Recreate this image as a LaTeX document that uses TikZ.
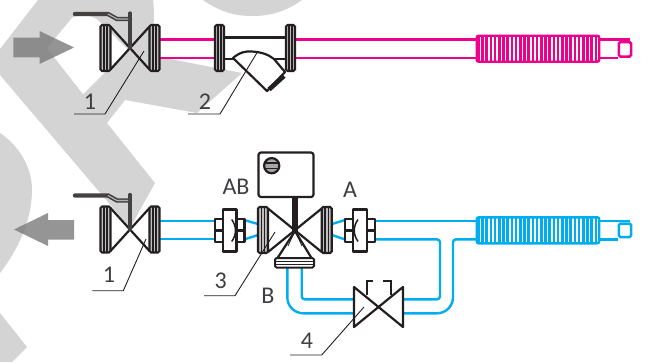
\documentclass[tikz,border=0pt]{standalone}
\usepackage{fontspec}
\setmainfont{Carlito}
\definecolor{wm}{RGB}{212,212,212}
\definecolor{ink}{RGB}{35,31,32}
\definecolor{lab}{RGB}{62,62,66}
\definecolor{pinkp}{RGB}{236,0,140}
\definecolor{bluep}{RGB}{0,174,239}
\tikzset{
  wmark/.style={fill=wm,draw=none},
  bigarrow/.style={fill=black!52,draw=none,opacity=.8},
  ln/.style={draw=ink,line width=2.2pt,line join=round},
  thinlead/.style={draw=ink,line width=.9pt},
  lbl/.style={text=lab,font=\fontsize{24}{24}\selectfont,inner sep=0pt},
  pipe/.style={line width=2.4pt,line join=round},
  flangebox/.style={draw=ink,line width=2.1pt,fill=black!25,rounded corners=1.5pt},
  stripe/.style={draw=ink,line width=1.4pt},
  pics/flangev/.style n args={2}{code={
    \draw[flangebox] (-#1,-#2) rectangle (#1,#2);
    \draw[stripe] (-#1/3,-#2) -- (-#1/3,#2) (#1/3,-#2) -- (#1/3,#2);
  }},
  pics/ballvalve/.style={code={
    \pic at (-24.5,0) {flangev={5}{23}};
    \pic at (24.5,0) {flangev={5}{23}};
    \draw[ln] (-19.5,-21.5) -- (19.5,21.5) (-19.5,21.5) -- (19.5,-21.5);
    \draw[draw=ink!85,line width=3.2pt,line cap=round] (0,0) -- (0,-35);
    \draw[draw=ink!85,line width=4.4pt,line cap=round,line join=round] (-55,-34) -- (-22,-34) -- (-13,-29) -- (0,-29);
    \draw[draw=black!30,line width=1.2pt] (-22,-34) -- (-13,-29) -- (-2,-29);
  }},
  pics/union/.style={code={
    \draw[ln,fill=white] (-14.7,-11.3) rectangle (14.7,11.3);
    \draw[ln,fill=white] (-6.8,-21) rectangle (6.8,21);
    \draw[ln] (-14.7,0) -- (-6.8,0) (6.8,0) -- (14.7,0);
    \draw[draw=ink,line width=1.5pt] (#1*2,-11) .. controls (#1*7,-4) and (#1*7,4) .. (#1*2,11);
  }},
  pics/union/.default=1,
  pics/bellows/.style={code={
    \draw[line width=2.4pt,rounded corners=2pt,fill=white] (0,0) rectangle (122.5,26);
    \foreach \i in {0,...,28} \draw[line width=2.6pt] ({1.5+\i*4.2},0) -- ({1.5+\i*4.2},26);
  }}
}
\begin{document}
\begin{tikzpicture}[x=1pt,y=-1pt]
\useasboundingbox (0,0) rectangle (652,362);
% watermark
\fill[wmark] (38,0) -- (0,49) -- (0,75) -- (130,228) -- (155,183) -- (107,123) -- (125,100) -- (197,113) -- (242,73) -- (160,57) -- (148,54) .. controls (154,35) and (155,15) .. (153,0) -- cycle;
\fill[white] (47,48) -- (72,18) .. controls (80,14) and (92,14) .. (100,22) -- (128,50) -- (83,94) -- cycle;
\fill[wmark] (203,0) .. controls (220,12) and (235,16) .. (252,16) .. controls (270,16) and (285,12) .. (302,0) -- cycle;
\fill[wmark] (0,133) .. controls (22,148) and (32,170) .. (32,190) .. controls (32,220) and (18,250) .. (0,273) -- cycle;
\fill[wmark] (0,313) -- (27,347) -- (12,362) -- (0,362) -- cycle;
% big arrows
\fill[bigarrow] (13.3,37.5) -- (39.5,37.5) -- (39.5,31) -- (74,47.5) -- (39.5,64) -- (39.5,57.3) -- (13.3,57.3) -- cycle;
\fill[bigarrow] (74,220) -- (48,220) -- (48,213) -- (14,229.5) -- (48,246) -- (48,239.5) -- (74,239.5) -- cycle;
% pink pipes
\draw[pipe,pinkp] (160,39.3) -- (215,39.3) (160,58) -- (215,58);
\draw[pipe,pinkp] (295,39.3) -- (630,39.3) (295,58) -- (618,58);
\begin{scope}[pinkp,shift={(476.7,35.7)}] \pic {bellows}; \end{scope}
\draw[pinkp,line width=2.5pt,rounded corners=1.5pt,fill=white] (618.8,42) rectangle (631,56.5);
% blue pipes
\draw[pipe,bluep] (160,220.7) -- (215,220.7) (160,239) -- (215,239);
\draw[pipe,bluep] (244,220) -- (258,224) (244,239.5) -- (258,235);
\draw[pipe,bluep] (332,224) -- (345,220) (332,235) -- (345,239.5);
\draw[pipe,bluep] (375,221) -- (630,221);
\draw[pipe,bluep,rounded corners=3pt] (375,239.3) -- (440,239.3) -- (440,299.3) -- (403.5,299.3);
\draw[pipe,bluep,rounded corners=3pt] (476.7,239.3) -- (453,239.3) [rounded corners=16pt] -- (453,313.3) -- (403.5,313.3);
\draw[pipe,bluep,rounded corners=3pt] (301.7,267) -- (301.7,299.3) -- (354,299.3);
\draw[pipe,bluep,rounded corners=16pt] (287.3,267) -- (287.3,313.3) -- (354,313.3);
\draw[pipe,bluep] (476.7,239.3) -- (618,239.3);
\begin{scope}[bluep,shift={(476.7,217.3)}] \pic {bellows}; \end{scope}
\draw[bluep,line width=2.5pt,rounded corners=1.5pt,fill=white] (618.8,223.5) rectangle (631,237);
% ball valves
\pic at (130,48) {ballvalve};
\pic at (130,229.5) {ballvalve};
% strainer
\pic at (219.5,48) {flangev={4.5}{23}};
\pic at (290.5,48) {flangev={4.5}{23}};
\draw[ln] (224,37.5) -- (286,37.5);
\draw[ln] (224,59) -- (233,59) (275,59) -- (286,59);
\draw[ln] (233,58) .. controls (240,52) and (246,51) .. (252,51.5) .. controls (260,52) and (268,54) .. (274,59) -- (285,72) -- (267,91) -- cycle;
\draw[draw=ink,line width=4.6pt] (269,89.5) -- (284,76);
% three-way valve
\pic at (263,230) {flangev={5}{23}};
\pic at (326.7,230) {flangev={5}{23}};
\draw[ln] (268,208.5) -- (321.7,252) (268,252) -- (321.7,208.5);
\draw[ln] (295,231) -- (277.5,258) (295,231) -- (311.5,258);
\draw[draw=ink,line width=.8pt] (295,231) -- (288,246) (295,231) -- (302,246);
\draw[draw=ink,line width=2pt,rounded corners=1.5pt,fill=white] (275,258) rectangle (314,267.5);
\draw[draw=ink,line width=1.2pt] (275,261.3) -- (314,261.3) (275,264.5) -- (314,264.5);
% actuator
\draw[ln,rounded corners=2.5pt] (258.5,152.5) rectangle (313.5,197);
\draw[draw=ink,line width=5.5pt] (295,197) -- (295,231);
\draw[ln,fill=black!35] (271.7,165.7) circle (7.6);
\draw[draw=ink,line width=1.6pt] (264.5,163) -- (279,163) (264.5,168.6) -- (279,168.6);
% unions
\pic at (229.7,230.5) {union=1};
\pic at (360,230.5) {union=-1};
% valve 4
\draw[ln] (354,287) -- (403,327) -- (403,287) -- (354,327) -- cycle;
\draw[draw=ink,line width=1.6pt] (372.7,280.7) -- (366.7,280.7) -- (366.7,295);
\draw[draw=ink,line width=1.6pt] (383.3,280.7) -- (390.7,280.7) -- (390.7,295);
% labels and leaders
\coordinate (t1) at (144,51); \coordinate (t1a) at (74,114); \coordinate (t1b) at (105,114);
\coordinate (t2) at (258,51); \coordinate (t2a) at (188,114); \coordinate (t2b) at (220,114);
\coordinate (b1) at (146,239); \coordinate (b1a) at (92.3,290.7); \coordinate (b1b) at (123.3,290.7);
\coordinate (b3) at (275,232); \coordinate (b3a) at (204,295.7); \coordinate (b3b) at (235,295.7);
\coordinate (b4) at (364,307); \coordinate (b4a) at (290,355); \coordinate (b4b) at (321.7,355);
\draw[thinlead] (t1a) -- (t1b) -- (t1);
\draw[thinlead] (t2a) -- (t2b) -- (t2);
\draw[thinlead] (b1a) -- (b1b) -- (b1);
\draw[thinlead] (b3a) -- (b3b) -- (b3);
\draw[thinlead] (b4a) -- (b4b) -- (b4);
\node[lbl] (n1t) at (90,102) {1};
\node[lbl] (n2) at (205,102) {2};
\node[lbl] (n1b) at (109,275) {1};
\node[lbl] (n3) at (220.7,281) {3};
\node[lbl] (n4) at (307,341) {4};
\node[lbl] (nab) at (236,187) {AB};
\node[lbl] (na) at (350,190) {A};
\node[lbl] (nb) at (268,296) {B};
\end{tikzpicture}
\end{document}
